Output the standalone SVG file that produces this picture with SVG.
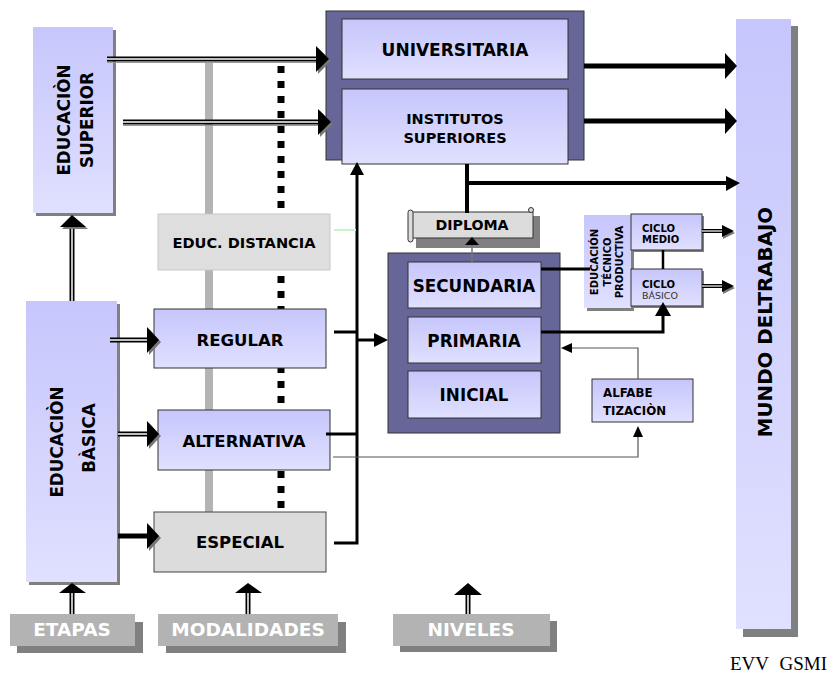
<svg xmlns="http://www.w3.org/2000/svg" width="830" height="680" viewBox="0 0 830 680">
<defs>
<linearGradient id="lav" x1="0" y1="0" x2="0" y2="1"><stop offset="0" stop-color="#c6c6fc"/><stop offset="1" stop-color="#e0e0ff"/></linearGradient>
<style>
text{font-family:"DejaVu Sans","Liberation Sans",sans-serif;font-weight:bold;fill:#000}
.box{fill:url(#lav);stroke:#333;stroke-width:1}
.nb{fill:url(#lav)}
.sh{fill:#808080}
.purple{fill:#666699;stroke:#333;stroke-width:1}
.gray{fill:#dcdcdc;stroke:#444;stroke-width:1}
.lbl{fill:#b3b3b3}
.lt{fill:#fff;font-size:18.5px}
.thick{stroke:#000;stroke-width:3;fill:none}
.bold5{stroke:#000;stroke-width:5;fill:none}
.thin{stroke:#555;stroke-width:1.2;fill:none}
.dblo{stroke:#000;stroke-width:5;fill:none}
.dbli{stroke:#fff;stroke-width:1.5;fill:none}
.dsh{stroke:#999;stroke-width:1;fill:none}
.hd{fill:#000}
.hs{fill:#777}
</style>
</defs>
<rect width="830" height="680" fill="#fff"/>
<g id="background">
<rect x="205" y="62" width="8" height="450" fill="#b4b4b4"/>
<line x1="281" y1="66" x2="281" y2="512" stroke="#000" stroke-width="7" stroke-dasharray="7 8"/>
</g>
<g id="educ-superior">
<rect class="sh" x="36" y="30" width="80" height="186"/>
<rect class="nb" x="33" y="27" width="80" height="186"/>
<text transform="translate(70,120) rotate(-90)" text-anchor="middle" font-size="16.8">EDUCACIÒN</text>
<text transform="translate(93,120) rotate(-90)" text-anchor="middle" font-size="16.8">SUPERIOR</text>
</g>
<g id="educ-basica">
<rect class="sh" x="29" y="304" width="91" height="281"/>
<rect class="nb" x="26" y="301" width="91" height="281"/>
<text transform="translate(63,442) rotate(-90)" text-anchor="middle" font-size="16.8">EDUCACIÒN</text>
<text transform="translate(95,438) rotate(-90)" text-anchor="middle" font-size="16.8">BÀSICA</text>
</g>
<g id="educ-distancia">
<rect x="158" y="214" width="172" height="56" fill="#dedede" stroke="#c8c8c8"/>
<text x="244" y="248" text-anchor="middle" font-size="14.6">EDUC. DISTANCIA</text>
</g>
<g id="regular">
<rect class="box" x="154" y="309" width="172" height="59"/>
<text x="240" y="346" text-anchor="middle" font-size="16.5">REGULAR</text>
</g>
<g id="alternativa">
<rect class="box" x="158" y="410" width="172" height="60"/>
<text x="244" y="447" text-anchor="middle" font-size="16.5">ALTERNATIVA</text>
</g>
<g id="especial">
<rect class="gray" x="154" y="512" width="172" height="60"/>
<text x="240" y="548" text-anchor="middle" font-size="16.5">ESPECIAL</text>
</g>
<g id="superior-group">
<rect class="purple" x="326" y="11" width="258" height="149"/>
</g>
<g id="universitaria">
<rect class="box" x="342" y="19" width="226" height="60"/>
<text x="455" y="56" text-anchor="middle" font-size="17">UNIVERSITARIA</text>
</g>
<g id="institutos">
<rect class="box" x="342" y="89" width="226" height="75"/>
<text x="455" y="124" text-anchor="middle" font-size="14.5">INSTITUTOS</text>
<text x="455" y="143" text-anchor="middle" font-size="14.5">SUPERIORES</text>
</g>
<g id="mundo">
<rect class="sh" x="743" y="26" width="55" height="611"/>
<rect class="nb" x="736" y="19" width="55" height="610"/>
<text transform="translate(772,322) rotate(-90)" text-anchor="middle" font-size="19.8">MUNDO DELTRABAJO</text>
</g>
<g id="niveles-group">
<rect class="purple" x="388" y="253" width="172" height="180"/>
</g>
<g id="secundaria">
<rect class="box" x="408" y="262" width="133" height="46"/>
<text x="474" y="292" text-anchor="middle" font-size="16.8">SECUNDARIA</text>
</g>
<g id="primaria">
<rect class="box" x="408" y="317" width="133" height="46"/>
<text x="474" y="347" text-anchor="middle" font-size="16.8">PRIMARIA</text>
</g>
<g id="inicial">
<rect class="box" x="408" y="371" width="133" height="47"/>
<text x="474" y="401" text-anchor="middle" font-size="16.8">INICIAL</text>
</g>
<g id="diploma">
<rect class="sh" x="416" y="216" width="124" height="32"/>
<rect x="411" y="212" width="122" height="26" fill="#dcdcdc" stroke="#333"/>
<rect x="408" y="210" width="5" height="32" rx="2.5" fill="#dcdcdc" stroke="#333"/>
<circle cx="531" cy="210" r="2.5" fill="#dcdcdc" stroke="#333"/>
<text x="472" y="230" text-anchor="middle" font-size="14.2">DIPLOMA</text>
</g>
<g id="etp">
<rect class="sh" x="587" y="218" width="47" height="93"/>
<rect class="nb" x="584" y="215" width="47" height="93"/>
<text transform="translate(598,262) rotate(-90)" text-anchor="middle" font-size="10">EDUCACIÓN</text>
<text transform="translate(611,262) rotate(-90)" text-anchor="middle" font-size="10">TÉCNICO</text>
<text transform="translate(623,262) rotate(-90)" text-anchor="middle" font-size="10">PRODUCTIVA</text>
</g>
<g id="ciclo-medio">
<rect class="sh" x="633" y="216" width="71" height="36"/>
<rect class="box" x="631" y="214" width="71" height="36"/>
<text x="642" y="232" font-size="10">CICLO</text>
<text x="642" y="243" font-size="10">MEDIO</text>
</g>
<g id="ciclo-basico">
<rect class="sh" x="633" y="271" width="71" height="37"/>
<rect class="box" x="631" y="269" width="71" height="37"/>
<text x="642" y="288" font-size="10">CICLO</text>
<text x="642" y="299" font-size="9.5" style="font-weight:normal;fill:#333">BÁSICO</text>
</g>
<g id="alfabetizacion">
<rect class="box" x="592" y="379" width="101" height="43"/>
<text x="603" y="397" font-size="11.8">ALFABE</text>
<text x="603" y="415" font-size="11.8">TIZACIÒN</text>
</g>
<g id="etapas">
<rect class="sh" x="17" y="622" width="126" height="31"/>
<rect class="lbl" x="10" y="614" width="125" height="32"/>
<text class="lt" x="72" y="636" text-anchor="middle">ETAPAS</text>
</g>
<g id="modalidades">
<rect class="sh" x="166" y="622" width="180" height="31"/>
<rect class="lbl" x="158" y="614" width="180" height="32"/>
<text class="lt" x="248" y="636" text-anchor="middle">MODALIDADES</text>
</g>
<g id="niveles">
<rect class="sh" x="400" y="621" width="157" height="31"/>
<rect class="lbl" x="393" y="614" width="157" height="32"/>
<text class="lt" x="471" y="636" text-anchor="middle">NIVELES</text>
</g>
<g id="credit">
<text x="730" y="670" font-size="19" style="font-family:'Liberation Serif',serif;font-weight:normal">EVV<tspan dx="6"> GSMI</tspan></text>
</g>
<g id="connectors">
<path class="dsh" d="M107 62.5H316"/>
<path class="dblo" d="M107 59H317"/><path class="dbli" d="M107 59H317"/>
<polygon class="hs" points="318,48 331,61 318,74"/><polygon class="hd" points="316,46 329,59 316,72"/>
<path class="dsh" d="M123 125.5H318"/>
<path class="dblo" d="M123 122H319"/><path class="dbli" d="M123 122H319"/>
<polygon class="hs" points="320,111 333,124 320,137"/><polygon class="hd" points="318,109 331,122 318,135"/>
<path class="dblo" d="M72 227V301"/><path class="dbli" d="M72 227V301"/>
<polygon class="hs" points="62,229 74,217 88,229"/><polygon class="hd" points="60,227 72,215 86,227"/>
<path class="dblo" d="M72 593V614"/><path class="dbli" d="M72 593V614"/>
<polygon class="hd" points="59,593 72,583 86,593"/>
<path class="dblo" d="M248 593V614"/><path class="dbli" d="M248 593V614"/>
<polygon class="hd" points="235,593 248,583 262,593"/>
<path class="dblo" d="M468 595V614"/><path class="dbli" d="M468 595V614"/>
<polygon class="hd" points="454,595 468,583 482,595"/>
<path class="dblo" d="M110 340H148"/><path class="dbli" d="M110 340H148"/>
<polygon class="hs" points="149,329 161,342 149,355"/><polygon class="hd" points="147,327 159,340 147,353"/>
<path class="dblo" d="M118 434H148"/><path class="dbli" d="M118 434H148"/>
<polygon class="hs" points="149,423 161,436 149,449"/><polygon class="hd" points="147,421 159,434 147,447"/>
<path class="bold5" d="M118 536H148"/>
<polygon class="hs" points="149,525 161,538 149,551"/><polygon class="hd" points="147,523 159,536 147,549"/>
<path class="thick" d="M334 332H357"/>
<path class="thick" d="M326 434H357"/>
<path class="thick" d="M334 543H357V174"/>
<polygon class="hd" points="350,175 357,162 364,175"/>
<path class="thick" d="M357 340H376"/>
<polygon class="hd" points="374,333 388,340 374,347"/>
<path d="M334 230H356" stroke="#c8f5c8" stroke-width="2"/>
<path class="thin" d="M333 457H638V437"/>
<polygon class="hd" points="633,437 638,426 643,437"/>
<path class="thin" d="M638 379V348H572"/>
<polygon class="hd" points="572,343 561,348 572,353"/>
<path d="M472 262V245" stroke="#777" stroke-width="1.5"/>
<polygon class="hd" points="465,245 472,237 479,245"/>
<path class="bold5" d="M584 66H727"/>
<polygon class="hd" points="725,53 737,66 725,79"/>
<path class="bold5" d="M584 121H727"/>
<polygon class="hd" points="725,108 737,121 725,134"/>
<path stroke="#000" stroke-width="4" fill="none" d="M467 164V213M467 183H728"/>
<polygon class="hd" points="726,176 740,183 726,191"/>
<path class="thick" d="M541 269H590"/>
<path stroke="#000" stroke-width="2.5" d="M663 250V269"/>
<path class="thick" d="M541 332H663V315"/>
<polygon class="hd" points="655,316 663,302 671,316"/>
<path stroke="#000" stroke-width="4" fill="none" d="M702 231H723"/><path stroke="#fff" stroke-width="1.2" d="M702 231H723"/>
<polygon class="hs" points="723,227 735,233 723,239"/><polygon class="hd" points="722,225 734,231 722,237"/>
<path stroke="#000" stroke-width="4" fill="none" d="M702 286H723"/><path stroke="#fff" stroke-width="1.2" d="M702 286H723"/>
<polygon class="hs" points="723,282 735,288 723,294"/><polygon class="hd" points="722,280 734,286 722,292"/>
</g>
</svg>
